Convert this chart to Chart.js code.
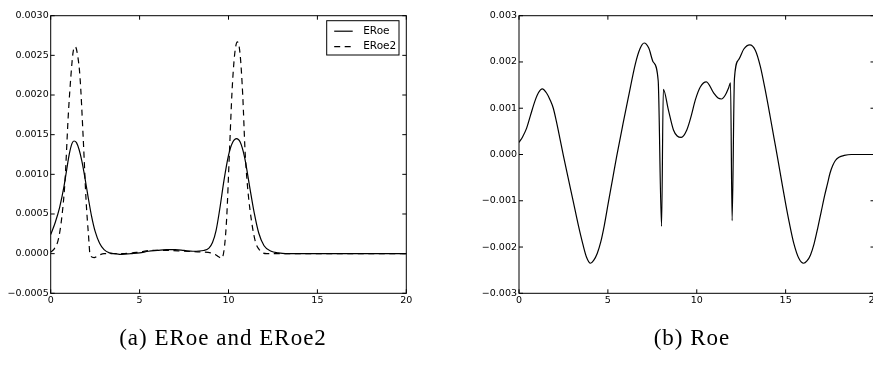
<!DOCTYPE html>
<html>
<head>
<meta charset="utf-8">
<script src="https://cdn.jsdelivr.net/npm/chart.js@4.4.1/dist/chart.umd.min.js"></script>
<style>
  html, body { margin: 0; padding: 0; background: #fff; overflow: hidden; width: 873px; height: 365px; }
  #wrap { position: relative; width: 873px; height: 365px; overflow: hidden; }
  canvas { position: absolute; top: 0; }
  #cA { left: 0; }
  #cB { left: 440px; }
  .cap { position: absolute; top: 325px; line-height: 26px; font-family: "Liberation Serif", "Times New Roman", serif;
         font-size: 23px; letter-spacing: 1px; white-space: nowrap; color: #000; transform: translateX(-50%); }
</style>
</head>
<body>
<div id="wrap">
  <canvas id="cA" width="440" height="330"></canvas>
  <canvas id="cB" width="460" height="330"></canvas>
  <div class="cap" style="left:223px">(a) ERoe and ERoe2</div>
  <div class="cap" style="left:692px">(b) Roe</div>
</div>
<script>
// ---- data ----
const xTicks = [0, 5, 10, 15, 20];
const yTicksA = [-0.0005, 0, 0.0005, 0.001, 0.0015, 0.002, 0.0025, 0.003];
const yTicksB = [-0.003, -0.002, -0.001, 0, 0.001, 0.002, 0.003];

const eroeX = [0, 0.25, 0.5, 0.75, 0.9, 1.05, 1.2, 1.31, 1.45, 1.6, 1.75, 1.9, 2.1, 2.3, 2.5, 2.75, 3.0, 3.3, 3.6, 4.0,
               4.5, 5.0, 5.5, 6.0, 6.5, 7.0, 7.5, 8.0, 8.6, 8.9, 9.1, 9.3, 9.5, 9.75, 10.0, 10.25, 10.45, 10.65, 10.9,
               11.2, 11.45, 11.7, 12.0, 12.4, 12.8, 13.2, 14, 16, 18, 20];
const eroeY = [0.00024, 0.00039, 0.00058, 0.00085, 0.00106, 0.00126, 0.00139, 0.00142, 0.00140, 0.00131, 0.00117,
               0.00099, 0.00072, 0.00047, 0.00028, 0.00013, 0.00005, 0.00001, 0.0, -0.00001,
               0.0, 0.00001, 0.00003, 0.00004, 0.00005, 0.00005, 0.00004, 0.00003, 0.00004, 0.00007, 0.00014, 0.00029,
               0.00055, 0.00093, 0.00124, 0.00141, 0.00145, 0.00141, 0.00122,
               0.00083, 0.00051, 0.00026, 0.00010, 0.00003, 0.00001, 0.0, 0, 0, 0, 0];

const eroe2X = [0, 0.2, 0.43, 0.62, 0.8, 0.99, 1.14, 1.26, 1.38, 1.5, 1.65, 1.83, 1.99, 2.12, 2.22, 2.44, 2.7, 3.0, 3.5,
                4.0, 5.0, 5.6, 6.5, 7.5, 8.5, 9.0, 9.25, 9.45, 9.62, 9.78, 9.9, 10.05, 10.2, 10.35, 10.5, 10.65, 10.8,
                10.93, 11.05, 11.21, 11.49, 11.77, 12.15, 14, 20];
const eroe2Y = [0.00002, 0.00006, 0.00018, 0.00045, 0.00090, 0.00175, 0.00225, 0.00254, 0.00261, 0.00252, 0.00222,
                0.00145, 0.00067, 0.00025, -0.00002, -0.00005, -0.00002, 0.0, 0.0,
                0.0, 0.00002, 0.00004, 0.00004, 0.00003, 0.00002, 0.00001, -0.00001, -0.00004, -0.00006, 0.00010,
                0.00046, 0.00126, 0.00205, 0.00252, 0.00267, 0.00252, 0.00200,
                0.00130, 0.00090, 0.00055, 0.00017, 0.00004, 0.0, 0, 0];

const roeX = [0, 0.2, 0.43, 0.65, 0.9, 1.1, 1.31, 1.55, 1.75, 1.93, 2.1, 2.3, 2.5, 2.75, 3.06, 3.35, 3.6, 3.8, 4.02,
              4.2, 4.4, 4.6, 4.8, 5.03, 5.27, 5.5, 5.85, 6.16, 6.54, 6.8, 7.04, 7.3, 7.55, 7.83, 8.02, 8.12, 8.4, 8.69,
              8.9, 9.13, 9.44, 9.7, 9.92, 10.2, 10.54, 10.95, 11.2, 11.39, 11.6, 11.8, 11.9, 11.99, 12.12, 12.36, 12.65,
              12.98, 13.3, 13.58, 13.85, 14.14, 14.35, 14.56, 14.8, 15.0, 15.2, 15.46, 15.75, 16.01, 16.2, 16.4, 16.6,
              16.8, 17.0, 17.2, 17.35, 17.5, 17.65, 17.8, 18.0, 18.3, 18.7, 20];
const roeY = [0.00026, 0.00038, 0.00057, 0.00085, 0.00116, 0.00134, 0.00142, 0.00133, 0.00118, 0.00100, 0.00072,
              0.00035, -0.00003, -0.00048, -0.00103, -0.00155, -0.00195, -0.00222, -0.00235,
              -0.00229, -0.00214, -0.00189, -0.00153, -0.00103, -0.00052, -0.00003, 0.00066, 0.00125, 0.00195, 0.00228,
              0.00241, 0.00230, 0.00200, 0.00160, -0.00155, 0.00141, 0.00097, 0.00053,
              0.00040, 0.00037, 0.00053, 0.00085, 0.00118, 0.00146, 0.00157, 0.00133, 0.00122, 0.00120, 0.00128, 0.00145,
              0.00155, -0.00143, 0.00164, 0.00205, 0.00228,
              0.00237, 0.00225, 0.00190, 0.00140, 0.00080, 0.00035, -0.00010, -0.00063, -0.00106, -0.00146, -0.00192,
              -0.00225, -0.00235, -0.00230, -0.00217, -0.00193,
              -0.00160, -0.00124, -0.00088, -0.00064, -0.00040, -0.00024, -0.00013, -0.00006, -0.00002, 0.0, 0.0];

// ---- helpers ----
const pts = (xs, ys) => xs.map((x, i) => ({ x: x, y: ys[i] }));
const fmt = (v, d) => (v < 0 ? '\u2212' : '') + Math.abs(v).toFixed(d);
const tickFont = { family: '"DejaVu Sans", sans-serif', size: 9.5 };

// box frame with inward tick marks on all four sides
const framePlugin = {
  id: 'frame',
  afterDatasetsDraw(chart) {
    const { ctx, chartArea: a, scales } = chart;
    const L = 4;
    ctx.save();
    ctx.strokeStyle = '#000';
    ctx.lineWidth = 1;
    ctx.strokeRect(a.left, a.top, a.right - a.left, a.bottom - a.top);
    ctx.beginPath();
    scales.x.ticks.forEach(t => {
      const p = scales.x.getPixelForValue(t.value);
      ctx.moveTo(p, a.bottom); ctx.lineTo(p, a.bottom - L);
      ctx.moveTo(p, a.top); ctx.lineTo(p, a.top + L);
    });
    scales.y.ticks.forEach(t => {
      const p = scales.y.getPixelForValue(t.value);
      ctx.moveTo(a.left, p); ctx.lineTo(a.left + L, p);
      ctx.moveTo(a.right, p); ctx.lineTo(a.right - L, p);
    });
    ctx.stroke();
    ctx.restore();
  }
};

// boxed legend in the upper right corner of the plot
const boxLegend = {
  id: 'boxLegend',
  afterDraw(chart, args, o) {
    if (!o || !o.show) return;
    const ctx = chart.ctx;
    ctx.save();
    ctx.fillStyle = '#fff';
    ctx.fillRect(o.x, o.y, o.w, o.h);
    ctx.strokeStyle = '#000';
    ctx.lineWidth = 1;
    ctx.strokeRect(o.x, o.y, o.w, o.h);
    ctx.font = '10.5px "DejaVu Sans", sans-serif';
    ctx.textBaseline = 'middle';
    chart.data.datasets.forEach((ds, i) => {
      const yy = o.y + o.first + i * o.step;
      ctx.beginPath();
      ctx.setLineDash(ds.borderDash || []);
      ctx.lineWidth = ds.borderWidth;
      ctx.moveTo(o.x + 7.5, yy);
      ctx.lineTo(o.x + 26, yy);
      ctx.stroke();
      ctx.setLineDash([]);
      ctx.fillStyle = '#000';
      ctx.fillText(ds.label, o.x + 36.5, yy);
    });
    ctx.restore();
  }
};

function build(id, datasets, yMin, yMax, yTicks, digits, box, legend) {
  // box: chart area in canvas pixels {l, t, r, b}
  const cv = document.getElementById(id);
  const W = cv.width, H = cv.height;
  return new Chart(cv, {
    type: 'line',
    data: { datasets: datasets },
    plugins: [framePlugin, boxLegend],
    options: {
      responsive: false,
      animation: false,
      devicePixelRatio: 1,
      layout: { padding: { left: 0, top: box.t, right: W - box.r, bottom: 0 } },
      plugins: { legend: { display: false }, tooltip: { enabled: false }, boxLegend: legend },
      elements: { point: { radius: 0 } },
      scales: {
        x: {
          type: 'linear', min: 0, max: 20,
          afterBuildTicks: s => { s.ticks = xTicks.map(v => ({ value: v })); },
          afterFit: s => { s.height = H - box.b; },
          grid: { display: false, drawTicks: false },
          border: { display: false },
          ticks: { color: '#000', font: tickFont, padding: 2, maxRotation: 0, autoSkip: false,
                   callback: v => String(v) }
        },
        y: {
          type: 'linear', min: yMin, max: yMax,
          afterBuildTicks: s => { s.ticks = yTicks.map(v => ({ value: v })); },
          afterFit: s => { s.width = box.l; },
          grid: { display: false, drawTicks: false },
          border: { display: false },
          ticks: { color: '#000', font: tickFont, padding: 2, autoSkip: false,
                   callback: v => fmt(v, digits) }
        }
      }
    }
  });
}

const line = (label, data, dash) => ({
  label: label, data: data, borderColor: '#000', borderWidth: 1.2, borderDash: dash || [],
  fill: false, pointRadius: 0, cubicInterpolationMode: 'monotone'
});

build('cA',
  [line('ERoe', pts(eroeX, eroeY)), line('ERoe2', pts(eroe2X, eroe2Y), [6, 4.5])],
  -0.0005, 0.003, yTicksA, 4,
  { l: 50.7, t: 15.7, r: 406.3, b: 293.3 },
  { show: true, x: 326.7, y: 20.7, w: 72.3, h: 34.3, first: 10.5, step: 15.5 });

build('cB',
  [line('Roe', pts(roeX, roeY))],
  -0.003, 0.003, yTicksB, 3,
  { l: 79, t: 15.7, r: 434.5, b: 293.3 },
  { show: false });
</script>
</body>
</html>
